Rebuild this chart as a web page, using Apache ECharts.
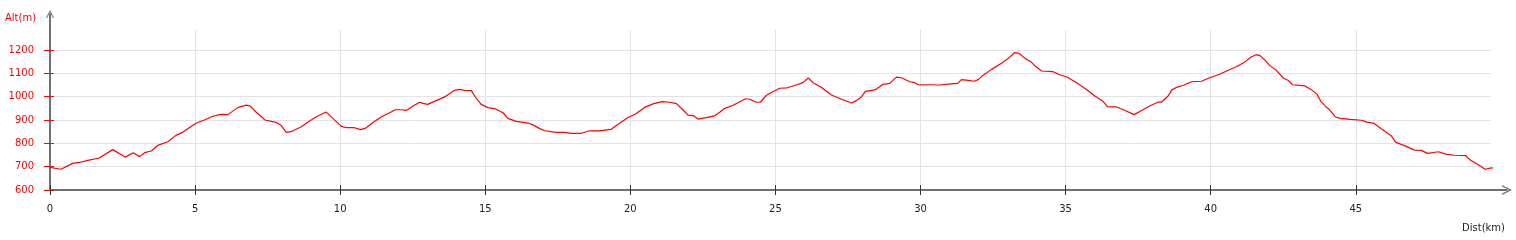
<!DOCTYPE html>
<html>
<head>
<meta charset="utf-8">
<script src="https://cdn.jsdelivr.net/npm/echarts@6/dist/echarts.min.js"></script>
<style>
html,body{margin:0;padding:0;background:#fff;}
#chart{width:1516px;height:240px;}
</style>
</head>
<body>
<div id="chart"></div>
<script>
const distKm = [0.0,0.38,0.78,1.01,1.3,1.7,2.16,2.59,2.87,3.09,3.26,3.49,3.71,4.06,4.34,4.57,5.03,5.32,5.61,5.90,6.13,6.47,6.76,6.9,7.10,7.41,7.79,7.97,8.14,8.31,8.66,9.0,9.23,9.52,9.75,10.03,10.21,10.49,10.70,10.86,11.13,11.41,11.64,11.9,12.10,12.28,12.51,12.74,12.85,13.02,13.25,13.6,13.94,14.11,14.29,14.52,14.69,14.86,15.09,15.32,15.61,15.78,16.07,16.47,16.64,16.9,17.05,17.45,17.74,17.97,18.31,18.6,18.94,19.34,19.63,19.92,20.18,20.49,20.78,21.1,21.36,21.59,21.82,21.99,22.16,22.33,22.62,22.91,23.08,23.25,23.54,23.71,23.97,24.11,24.34,24.48,24.69,24.94,25.15,25.4,25.72,25.95,26.13,26.30,26.59,26.93,27.28,27.62,27.79,27.97,28.10,28.43,28.71,28.94,29.17,29.34,29.63,29.8,29.92,30.27,30.67,30.96,31.28,31.41,31.64,31.85,31.99,32.1,32.45,32.79,33.02,33.25,33.39,33.6,33.8,33.91,34.17,34.57,34.75,35.06,35.38,35.72,36.01,36.3,36.44,36.76,37.05,37.36,37.62,37.91,38.2,38.31,38.54,38.66,38.83,39.06,39.34,39.69,39.92,40.26,40.55,40.9,41.18,41.38,41.56,41.7,41.87,42.04,42.25,42.51,42.68,42.82,43.25,43.48,43.66,43.8,43.97,44.08,44.29,44.46,44.8,45.2,45.38,45.61,45.9,46.22,46.38,46.7,47.02,47.25,47.48,47.85,48.1,48.4,48.79,48.94,49.21,49.46,49.63,49.9];
const altM = [697,689,714,718,727,737,773,741,760,743,760,767,791,807,834,847,886,900,916,924,923,953,964,960,934,900,890,876,847,850,871,900,917,934,907,874,867,867,859,864,889,913,927,944,944,941,960,976,971,967,980,999,1027,1031,1027,1026,993,967,953,949,931,907,894,887,879,862,854,847,847,843,843,854,853,860,886,911,926,954,969,979,976,970,943,921,919,904,910,918,933,950,963,974,991,989,976,976,1006,1023,1036,1038,1050,1060,1080,1060,1039,1007,989,973,983,1000,1023,1029,1053,1057,1084,1081,1064,1060,1051,1051,1050,1054,1057,1073,1070,1066,1073,1086,1117,1143,1164,1189,1186,1164,1150,1136,1110,1107,1096,1083,1060,1031,1003,979,957,956,941,923,941,961,977,977,1004,1029,1040,1049,1064,1066,1079,1094,1110,1129,1149,1169,1180,1176,1157,1133,1114,1079,1069,1051,1046,1029,1011,979,957,946,914,907,903,899,891,887,860,833,804,789,771,770,757,764,754,749,747,729,709,689,694,697];
const xTicks = [0,5,10,15,20,25,30,35,40,45];
const yTicks = [600,700,800,900,1000,1100,1200];
const yName = 'Alt(m)';
const xName = 'Dist(km)';

const FONT = 'DejaVu Sans';
const arrowPath = 'path://M0,100 L50,0 L100,100 L86,100 L50,26 L14,100 Z';
const X_MAX = 49.66, Y_MIN = 600, Y_MAX = 1285.7;
const plain = v => String(Math.round(v));

const chart = echarts.init(document.getElementById('chart'));
chart.setOption({
  animation: false,
  backgroundColor: '#fff',
  grid: [
    {left: 50, top: 30, right: 25, bottom: 50},
    {left: 50, top: 14, right: 9, bottom: 50}
  ],
  xAxis: [
    {
      gridIndex: 0, type: 'value', position: 'bottom', min: 0, max: X_MAX, interval: 5, z: 0,
      axisLine: {show: false},
      axisTick: {show: false},
      axisLabel: {show: true, customValues: xTicks, formatter: plain, margin: 14, color: '#222', fontFamily: FONT, fontSize: 10},
      splitLine: {show: true, showMaxLine: false, lineStyle: {color: '#e3e3e3', width: 1}}
    },
    {
      gridIndex: 0, type: 'value', position: 'bottom', offset: 0, min: 0, max: X_MAX, interval: 5, z: 6,
      axisLine: {show: false},
      axisTick: {show: true, inside: true, length: 5, customValues: xTicks, lineStyle: {color: '#333', width: 1}},
      axisLabel: {show: false},
      splitLine: {show: false}
    },
    {
      gridIndex: 1, type: 'value', position: 'bottom', min: 0, max: 1, z: 3,
      axisLine: {show: true, lineStyle: {color: '#707070', width: 2}, symbol: ['none', arrowPath], symbolSize: [10, 10]},
      axisTick: {show: false}, axisLabel: {show: false}, splitLine: {show: false}
    },
    {
      gridIndex: 0, type: 'value', position: 'bottom', offset: 0, min: 0, max: X_MAX, interval: 5, z: 6,
      axisLine: {show: false},
      axisTick: {show: true, inside: false, length: 5, customValues: xTicks, lineStyle: {color: '#333', width: 1}},
      axisLabel: {show: false},
      splitLine: {show: false}
    }
  ],
  yAxis: [
    {
      gridIndex: 0, type: 'value', position: 'left', min: Y_MIN, max: Y_MAX, interval: 100, z: 0,
      axisLine: {show: false},
      axisTick: {show: false},
      axisLabel: {show: true, customValues: yTicks, formatter: plain, margin: 16, color: '#ff0000', fontFamily: FONT, fontSize: 10},
      splitLine: {show: true, showMaxLine: false, lineStyle: {color: '#e3e3e3', width: 1}}
    },
    {
      gridIndex: 0, type: 'value', position: 'left', offset: 0, min: Y_MIN, max: Y_MAX, interval: 100, z: 6,
      axisLine: {show: false},
      axisTick: {show: true, inside: true, length: 4, customValues: yTicks, lineStyle: {color: '#ff0000', width: 1}},
      axisLabel: {show: false},
      splitLine: {show: false}
    },
    {
      gridIndex: 1, type: 'value', position: 'left', min: 0, max: 1, z: 3,
      axisLine: {show: true, lineStyle: {color: '#707070', width: 2}, symbol: ['none', arrowPath], symbolSize: [8, 9]},
      axisTick: {show: false}, axisLabel: {show: false}, splitLine: {show: false}
    },
    {
      gridIndex: 0, type: 'value', position: 'left', offset: 0, min: Y_MIN, max: Y_MAX, interval: 100, z: 6,
      axisLine: {show: false},
      axisTick: {show: true, inside: false, length: 6, customValues: yTicks, lineStyle: {color: '#ff0000', width: 1}},
      axisLabel: {show: false},
      splitLine: {show: false}
    }
  ],
  graphic: [
    {type: 'text', left: 5, top: 13, style: {text: yName, fill: '#ff0000', font: '10px "DejaVu Sans"'}},
    {type: 'text', right: 11, top: 223, style: {text: xName, fill: '#222', font: '10px "DejaVu Sans"'}}
  ],
  series: [{
    type: 'line',
    xAxisIndex: 0, yAxisIndex: 0,
    data: distKm.map((d, i) => [d, altM[i]]),
    showSymbol: false, symbol: 'none', smooth: false, clip: false,
    lineStyle: {color: '#ff0000', width: 1.2},
    z: 4
  }]
});
</script>
</body>
</html>
